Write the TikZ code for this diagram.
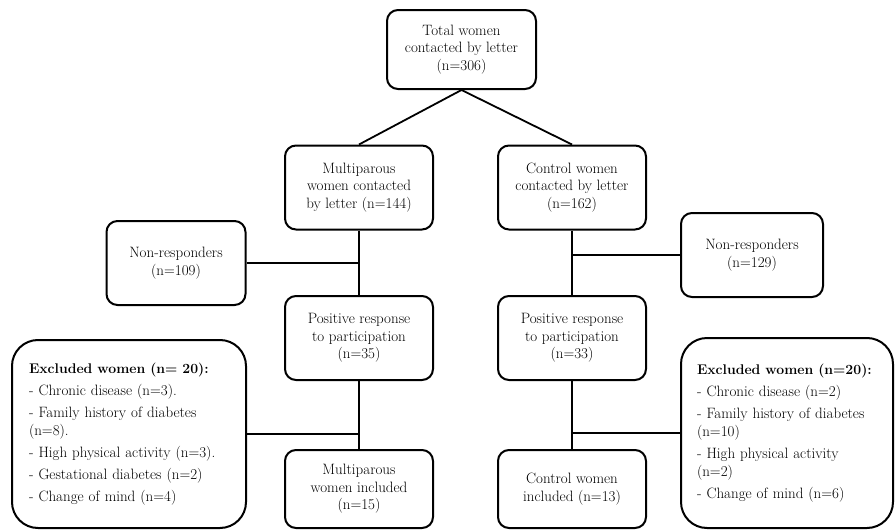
\documentclass[tikz,border=0pt]{standalone}
\usepackage{fontspec}
\setmainfont{Latin Modern Roman}
\begin{document}
\begin{tikzpicture}[x=1pt,y=-1pt,
  box/.style={draw=black,line width=2pt,rounded corners=11pt,align=center,
    inner sep=2pt,font=\fontsize{15}{17.5}\selectfont},
  bigbox/.style={draw=black,line width=2pt,rounded corners=26pt,align=left,
    inner ysep=2pt,font=\fontsize{15}{18}\selectfont},
  hd/.style={font=\fontsize{14}{18}\selectfont\bfseries},
  conn/.style={draw=black,line width=1.8pt}]
\useasboundingbox (0,0) rectangle (895,530);
\node[box,minimum width=149pt,minimum height=79pt] (top) at (461.5,49.5)
  {Total women\\contacted by letter\\(n=306)};
\node[box,minimum width=148pt,minimum height=84pt] (mult) at (359,187.5)
  {Multiparous\\women contacted\\by letter (n=144)};
\node[box,minimum width=148pt,minimum height=84pt] (ctrl) at (572,187.5)
  {Control women\\contacted by letter\\(n=162)};
\node[box,minimum width=139pt,minimum height=84pt] (nonL) at (176,263)
  {Non-responders\\(n=109)};
\node[box,minimum width=142pt,minimum height=84pt] (nonR) at (752,255)
  {Non-responders\\(n=129)};
\node[box,minimum width=148pt,minimum height=84pt] (posL) at (359,338)
  {Positive response\\to participation\\(n=35)};
\node[box,minimum width=148pt,minimum height=84pt] (posR) at (572,338)
  {Positive response\\to participation\\(n=33)};
\node[box,minimum width=148pt,minimum height=78pt] (incL) at (359,489)
  {Multiparous\\women included\\(n=15)};
\node[box,minimum width=148pt,minimum height=78pt] (incR) at (572,489)
  {Control women\\included (n=13)};
\node[bigbox,minimum width=234pt,minimum height=188pt,inner xsep=17pt,text width=200pt] (exclL) at (129,434)
  {{\fontsize{14}{18}\selectfont\bfseries Excluded women (n= 20):}\\[4pt]
   - Chronic disease (n=3).\\[4pt]
   - Family history of diabetes\\(n=8).\\[4pt]
   - High physical activity (n=3).\\[4pt]
   - Gestational diabetes (n=2)\\[4pt]
   - Change of mind (n=4)};
\node[bigbox,minimum width=212pt,minimum height=190pt,inner xsep=16pt,text width=180pt] (exclR) at (787,433)
  {{\fontsize{14}{18}\selectfont\bfseries Excluded women (n=20):}\\[4pt]
   - Chronic disease (n=2)\\[4pt]
   - Family history of diabetes\\(n=10)\\[4pt]
   - High physical activity\\(n=2)\\[4pt]
   - Change of mind (n=6)\\[6pt]};
\coordinate (jL1) at (nonL.east -| mult.south);
\coordinate (jL2) at (exclL.east -| posL.south);
\coordinate (jR1) at (nonR.west -| ctrl.south);
\coordinate (jR2) at (exclR.west -| posR.south);
\draw[conn] (top.south) -- (mult.north);
\draw[conn] (top.south) -- (ctrl.north);
\draw[conn] (mult.south) -- (posL.north);
\draw[conn] (ctrl.south) -- (posR.north);
\draw[conn] (posL.south) -- (incL.north);
\draw[conn] (posR.south) -- (incR.north);
\draw[conn] (nonL.east) -- (jL1);
\draw[conn] (exclL.east) -- (jL2);
\draw[conn] (nonR.west) -- (jR1);
\draw[conn] (exclR.west) -- (jR2);
\end{tikzpicture}
\end{document}
